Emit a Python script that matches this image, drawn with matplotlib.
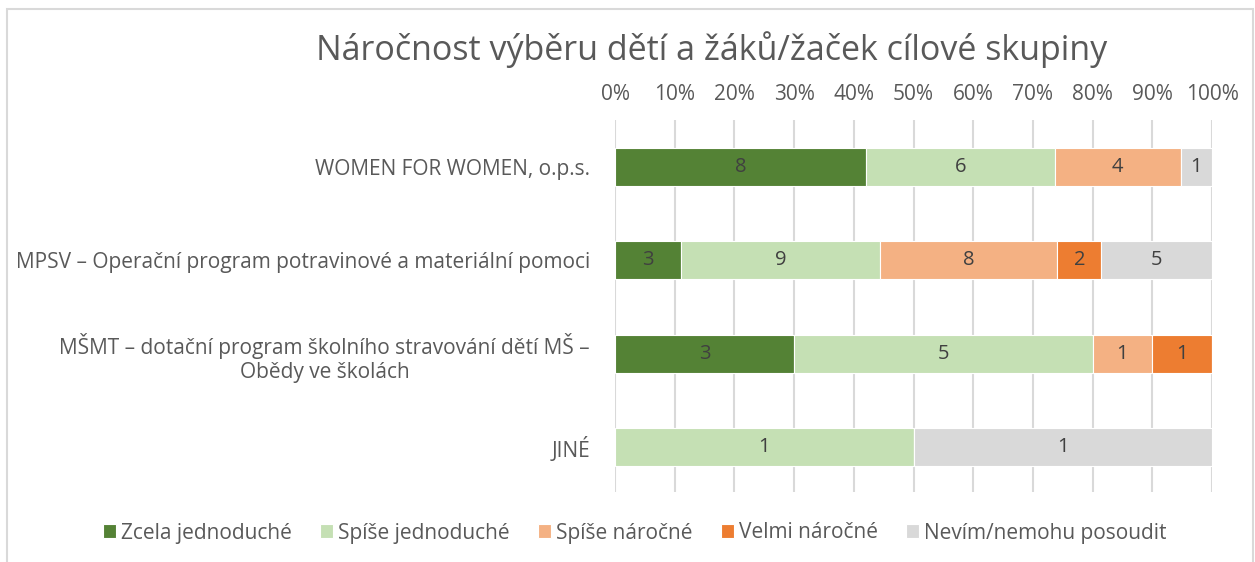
import matplotlib.pyplot as plt
import numpy as np
from matplotlib.patches import Rectangle

plt.rcParams['font.family'] = ['Open Sans', 'DejaVu Sans']

# data
categories = ["WOMEN FOR WOMEN, o.p.s.",
              "MPSV – Operační program potravinové a materiální pomoci",
              "MŠMT – dotační program školního stravování dětí MŠ –\nObědy ve školách",
              "JINÉ"]
series_names = ["Zcela jednoduché", "Spíše jednoduché", "Spíše náročné",
                "Velmi náročné", "Nevím/nemohu posoudit"]
zcela_jednoduche = [8, 3, 3, 0]
spise_jednoduche = [6, 9, 5, 1]
spise_narocne = [4, 8, 1, 0]
velmi_narocne = [0, 2, 1, 0]
nevim = [1, 5, 0, 1]
colors = ["#548235", "#C5E0B4", "#F4B183", "#ED7D31", "#D9D9D9"]
ticks = [0, 10, 20, 30, 40, 50, 60, 70, 80, 90, 100]

counts = np.array([zcela_jednoduche, spise_jednoduche, spise_narocne,
                   velmi_narocne, nevim], dtype=float)
totals = counts.sum(axis=0)
shares = counts / totals * 100

fig = plt.figure(figsize=(12.55, 5.62), dpi=100)
# outer chart frame
fig.patches.append(Rectangle((7 / 1255, -0.1), 1246 / 1255, 1.1 - 9 / 562,
                             transform=fig.transFigure, fill=False,
                             edgecolor="#D9D9D9", linewidth=1.5))
ax = fig.add_axes([615 / 1255, 1 - 492 / 562, 597 / 1255, 372 / 562])

y = np.arange(len(categories))
left = np.zeros(len(categories))
for i, name in enumerate(series_names):
    ax.barh(y, shares[i], left=left, height=0.41, color=colors[i],
            edgecolor="white", linewidth=0.8, label=name, zorder=3)
    for j in range(len(categories)):
        if counts[i, j] > 0:
            ax.text(left[j] + shares[i, j] / 2, y[j], f"{int(counts[i, j])}",
                    ha="center", va="center", fontsize=14.5, color="#404040",
                    zorder=4)
    left += shares[i]

ax.set_xlim(0, 100)
ax.set_ylim(3.48, -0.5)
ax.set_xticks(ticks)
ax.set_xticklabels([f"{t}%" for t in ticks])
ax.xaxis.tick_top()
ax.tick_params(axis="x", length=0, pad=11, labelsize=15, labelcolor="#595959")
ax.set_yticks(y)
ax.set_yticklabels(categories, multialignment="center")
ax.tick_params(axis="y", length=0, pad=18, labelsize=15, labelcolor="#595959")
ax.grid(axis="x", color="#D9D9D9", linewidth=1.5, zorder=0)
for s in ax.spines.values():
    s.set_visible(False)

fig.text(712 / 1255, 1 - 50 / 562, "Náročnost výběru dětí a žáků/žaček cílové skupiny",
         ha="center", va="center", fontsize=24.5, color="#595959")

fig.legend(loc="center", bbox_to_anchor=(635 / 1255, 1 - 533 / 562), ncol=5,
           frameon=False, fontsize=15, labelcolor="#595959",
           handlelength=0.62, handleheight=0.62, handletextpad=0.25,
           columnspacing=1.35)

fig.savefig("out.png", dpi=100)
